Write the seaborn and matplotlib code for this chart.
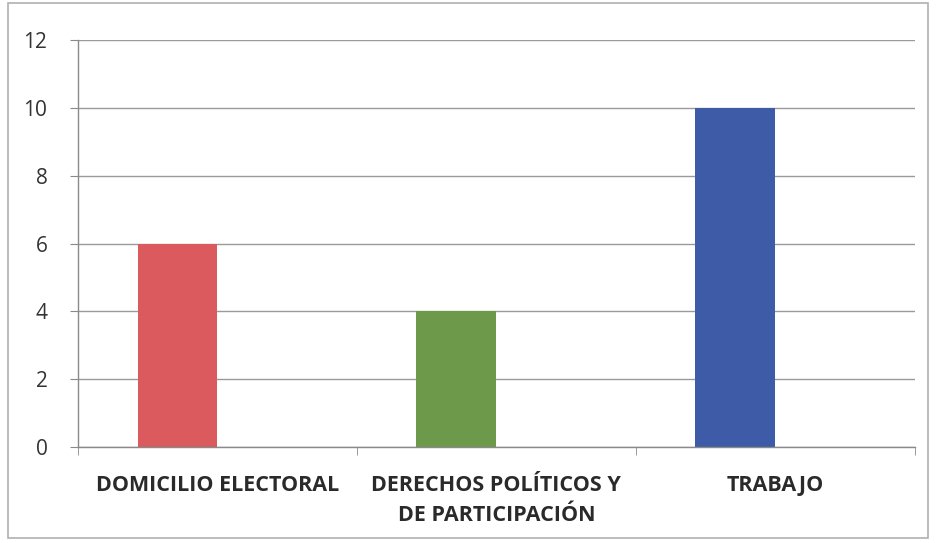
import pandas as pd
import seaborn as sns
import matplotlib.pyplot as plt
from matplotlib.patches import Rectangle

categorias = ["DOMICILIO ELECTORAL", "DERECHOS POLÍTICOS Y\nDE PARTICIPACIÓN", "TRABAJO"]
valores = [6, 4, 10]
vacia = [0, 0, 0]  # second (empty) series, shifts bars left like the original
colores = ["#DB5A5E", "#6C9A4A", "#3D5BA6"]

df = pd.DataFrame({
    "categoria": categorias * 2,
    "valor": valores + vacia,
    "serie": ["Serie 1"] * 3 + ["Serie 2"] * 3,
})

sns.set_style("white")
fig = plt.figure(figsize=(9.36, 5.43), dpi=100)
ax = fig.add_axes([0.0833, 0.177, 0.894, 0.749])

sns.barplot(data=df, x="categoria", y="valor", hue="serie", width=0.573,
            dodge=True, legend=False, ax=ax, linewidth=0, saturation=1)

# color the real bars by category
for patch, c in zip(ax.patches[:3], colores):
    patch.set_facecolor(c)
for patch in ax.patches[3:]:
    patch.set_visible(False)

ax.set_ylim(0, 12)
ax.set_xlim(-0.5, 2.5)
ax.set_yticks(range(0, 13, 2))
ax.yaxis.grid(True, color="#9a9a9a", linewidth=1)
ax.set_axisbelow(True)
ax.set_xlabel("")
ax.set_ylabel("")

for s in ["top", "right"]:
    ax.spines[s].set_visible(False)
for s in ["left", "bottom"]:
    ax.spines[s].set_color("#8a8a8a")
    ax.spines[s].set_linewidth(1)

ax.tick_params(axis="y", left=True, length=6, color="#8a8a8a", pad=16,
               labelsize=15, labelcolor="#333333")
ax.set_xticks([0, 1, 2])
ax.set_xticklabels(categorias, fontsize=15.5, fontweight="bold",
                   color="#2a2a2a", family="Open Sans", linespacing=1.55)
ax.tick_params(axis="x", bottom=False, pad=17)
# boundary ticks between categories
ax.set_xticks([-0.5, 0.5, 1.5, 2.5], minor=True)
ax.tick_params(axis="x", which="minor", bottom=True, length=6, color="#8a8a8a")
for lab in ax.get_yticklabels():
    lab.set_family("Open Sans")

# outer chart frame
fig.patches.append(Rectangle((0.009, 0.01), 0.982, 0.985, transform=fig.transFigure,
                             fill=False, edgecolor="#b0b0b0", linewidth=1.2))

fig.savefig("out.png", dpi=100)
